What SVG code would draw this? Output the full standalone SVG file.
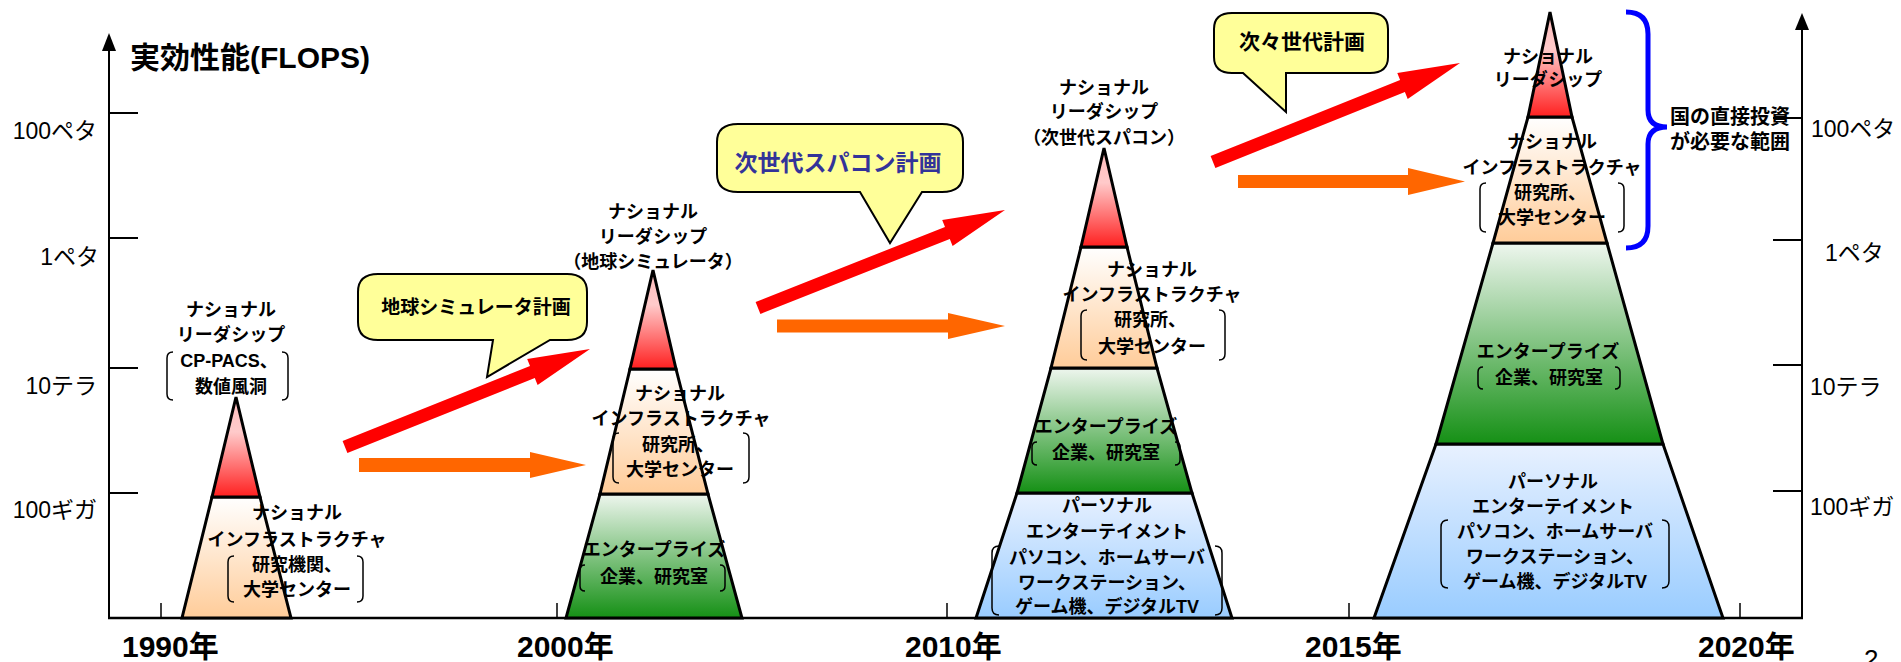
<svg xmlns="http://www.w3.org/2000/svg" width="1901" height="662" viewBox="0 0 1901 662">
<style>
text{font-family:"Liberation Sans","Noto Sans CJK JP",sans-serif;fill:#000}
.lbl{font-size:18px;font-weight:bold;text-anchor:middle}
.ax{font-size:23px}
.axe{text-anchor:end}
.yr{font-size:30px;font-weight:bold}
.ttl{font-size:30px;font-weight:bold}
.sec{stroke:#000;stroke-width:3;stroke-linejoin:miter}
.br{fill:none;stroke:#000;stroke-width:1.5}
.line{stroke:#000;stroke-width:2;fill:none}
.tick{stroke:#000;stroke-width:1.5}
.call{fill:#ffff99;stroke:#000;stroke-width:2}
.red{fill:#ff0000}
.org{fill:#ff6600}
</style>
<defs>
<linearGradient id="gRed" x1="0" y1="0" x2="0" y2="1"><stop offset="0" stop-color="#ffbcbc"/><stop offset="0.35" stop-color="#ffcaca"/><stop offset="1" stop-color="#ff1f1f"/></linearGradient>
<linearGradient id="gOrg" x1="0" y1="0" x2="0" y2="1"><stop offset="0" stop-color="#ffffff"/><stop offset="1" stop-color="#ffcc99"/></linearGradient>
<linearGradient id="gGrn" x1="0" y1="0" x2="0" y2="1"><stop offset="0" stop-color="#eef6ee"/><stop offset="1" stop-color="#159015"/></linearGradient>
<linearGradient id="gBlu" x1="0" y1="0" x2="0" y2="1"><stop offset="0" stop-color="#e8f1ff"/><stop offset="1" stop-color="#99ccff"/></linearGradient>
</defs>
<rect width="1901" height="662" fill="#fff"/>

<g id="axes">
<line class="line" x1="109" y1="618" x2="109" y2="48"/>
<polygon points="109,33 102,51 116,51"/>
<line class="line" x1="1802" y1="618" x2="1802" y2="26"/>
<polygon points="1802,13 1795,30 1809,30"/>
<line x1="108" y1="618" x2="1803" y2="618" stroke="#000" stroke-width="2.5"/>
<line class="line" x1="109" y1="113" x2="138" y2="113"/>
<line class="line" x1="109" y1="238" x2="138" y2="238"/>
<line class="line" x1="109" y1="368" x2="138" y2="368"/>
<line class="line" x1="109" y1="493" x2="138" y2="493"/>
<line class="line" x1="1773" y1="118" x2="1802" y2="118"/>
<line class="line" x1="1773" y1="240" x2="1802" y2="240"/>
<line class="line" x1="1773" y1="365" x2="1802" y2="365"/>
<line class="line" x1="1773" y1="491" x2="1802" y2="491"/>
<line class="tick" x1="161" y1="603" x2="161" y2="618"/>
<line class="tick" x1="557" y1="603" x2="557" y2="618"/>
<line class="tick" x1="947" y1="603" x2="947" y2="618"/>
<line class="tick" x1="1349" y1="603" x2="1349" y2="618"/>
<line class="tick" x1="1740" y1="603" x2="1740" y2="618"/>
<text class="ttl" x="130" y="68">実効性能(FLOPS)</text>
<text class="ax axe" x="97" y="139">100ペタ</text>
<text class="ax axe" x="99" y="265">1ペタ</text>
<text class="ax axe" x="97" y="394">10テラ</text>
<text class="ax axe" x="97" y="518">100ギガ</text>
<text class="ax" x="1811" y="137">100ペタ</text>
<text class="ax" x="1825" y="261">1ペタ</text>
<text class="ax" x="1810" y="395">10テラ</text>
<text class="ax" x="1810" y="515">100ギガ</text>
<text class="yr" x="122" y="657">1990年</text>
<text class="yr" x="517" y="657">2000年</text>
<text class="yr" x="905" y="657">2010年</text>
<text class="yr" x="1305" y="657">2015年</text>
<text class="yr" x="1698" y="657">2020年</text>
<text x="1864" y="668" style="font-size:26px">2</text>
</g>

<g id="connectors">
<polygon class="red" points="347.4,453 534.8,378 537.6,385 590,349 527.2,359 530,366 342.6,441"/>
<polygon class="red" points="760.4,314 949.8,238.9 952.6,245.9 1005,210 942.2,219.9 945,226.9 755.6,302"/>
<polygon class="red" points="1215.4,168 1404.9,92.1 1407.7,99.1 1460,63 1397.3,73.1 1400.1,80.1 1210.6,156"/>
<polygon class="org" points="359,458 530,458 530,452 586,465 530,478 530,472 359,472"/>
<polygon class="org" points="777,319.5 948,319.5 948,313 1005,326 948,339 948,332.5 777,332.5"/>
<polygon class="org" points="1238,175 1408,175 1408,168 1465,181.5 1408,195 1408,188 1238,188"/>
</g>

<g id="callout-earth-simulator">
<path class="call" d="M378,274 H567 Q587,274 587,292 V322 Q587,340 567,340 H550 L487,377 L493,340 H378 Q358,340 358,322 V292 Q358,274 378,274 Z"/>
<text class="lbl" x="476" y="314" style="font-size:19px">地球シミュレータ計画</text>
</g>
<g id="callout-next-gen">
<path class="call" d="M738,124 H942 Q963,124 963,142 V174 Q963,192 942,192 H922 L890,243 L860,192 H738 Q717,192 717,174 V142 Q717,124 738,124 Z"/>
<text class="lbl" x="838" y="171" style="font-size:23px;fill:#333399">次世代スパコン計画</text>
</g>
<g id="callout-next-next-gen">
<path class="call" d="M1232,13 H1370 Q1388,13 1388,29 V57 Q1388,73 1370,73 H1286 V112 L1243,73 H1232 Q1214,73 1214,57 V29 Q1214,13 1232,13 Z"/>
<text class="lbl" x="1302" y="49" style="font-size:21px">次々世代計画</text>
</g>

<g id="pyramid-1990">
<polygon class="sec" fill="url(#gOrg)" points="212,497 260,497 291,618 182,618"/>
<polygon class="sec" fill="url(#gRed)" points="236,397 260,497 212,497"/>
<text class="lbl" x="231" y="316">ナショナル</text>
<text class="lbl" x="231" y="341">リーダシップ</text>
<text class="lbl" x="229" y="367">CP-PACS、</text>
<text class="lbl" x="231" y="393">数値風洞</text>
<path class="br" d="M173,352 Q167,352 167,358 V394 Q167,400 173,400 M282,352 Q288,352 288,358 V394 Q288,400 282,400"/>
<text class="lbl" x="297" y="519">ナショナル</text>
<text class="lbl" x="297" y="546">インフラストラクチャ</text>
<text class="lbl" x="297" y="571">研究機関、</text>
<text class="lbl" x="297" y="596">大学センター</text>
<path class="br" d="M234,556 Q228,556 228,562 V596 Q228,602 234,602 M357,556 Q363,556 363,562 V596 Q363,602 357,602"/>
</g>

<g id="pyramid-2000">
<polygon class="sec" fill="url(#gGrn)" points="600,494 708,494 742,618 566,618"/>
<polygon class="sec" fill="url(#gOrg)" points="630,369 676,369 708,494 600,494"/>
<polygon class="sec" fill="url(#gRed)" points="653,270 676,369 630,369"/>
<text class="lbl" x="653" y="218">ナショナル</text>
<text class="lbl" x="653" y="243">リーダシップ</text>
<text class="lbl" x="653" y="268">（地球シミュレータ）</text>
<text class="lbl" x="680" y="400">ナショナル</text>
<text class="lbl" x="681" y="425">インフラストラクチャ</text>
<text class="lbl" x="678" y="451">研究所、</text>
<text class="lbl" x="680" y="476">大学センター</text>
<path class="br" d="M619,433 Q613,433 613,439 V477 Q613,483 619,483 M743,433 Q749,433 749,439 V477 Q749,483 743,483"/>
<text class="lbl" x="654" y="556">エンタープライズ</text>
<text class="lbl" x="654" y="583">企業、研究室</text>
<path class="br" d="M585,565 Q580,565 580,570 V586 Q580,591 585,591 M720,565 Q725,565 725,570 V586 Q725,591 720,591"/>
</g>

<g id="pyramid-2010">
<polygon class="sec" fill="url(#gBlu)" points="1017,493 1192,493 1232,618 976,618"/>
<polygon class="sec" fill="url(#gGrn)" points="1051,368 1157,368 1192,493 1017,493"/>
<polygon class="sec" fill="url(#gOrg)" points="1081,247 1127,247 1157,368 1051,368"/>
<polygon class="sec" fill="url(#gRed)" points="1104,148 1127,247 1081,247"/>
<text class="lbl" x="1104" y="94">ナショナル</text>
<text class="lbl" x="1104" y="118">リーダシップ</text>
<text class="lbl" x="1104" y="144">（次世代スパコン）</text>
<text class="lbl" x="1152" y="276">ナショナル</text>
<text class="lbl" x="1152" y="301">インフラストラクチャ</text>
<text class="lbl" x="1150" y="326">研究所、</text>
<text class="lbl" x="1152" y="353">大学センター</text>
<path class="br" d="M1087,310 Q1081,310 1081,316 V354 Q1081,360 1087,360 M1219,310 Q1225,310 1225,316 V354 Q1225,360 1219,360"/>
<text class="lbl" x="1106" y="433">エンタープライズ</text>
<text class="lbl" x="1106" y="459">企業、研究室</text>
<path class="br" d="M1037,442 Q1032,442 1032,447 V460 Q1032,465 1037,465 M1175,442 Q1180,442 1180,447 V460 Q1180,465 1175,465"/>
<text class="lbl" x="1107" y="512">パーソナル</text>
<text class="lbl" x="1107" y="538">エンターテイメント</text>
<text class="lbl" x="1107" y="564">パソコン、ホームサーバ</text>
<text class="lbl" x="1107" y="589">ワークステーション、</text>
<text class="lbl" x="1107" y="613">ゲーム機、デジタルTV</text>
<path class="br" d="M999,546 Q992,546 992,553 V608 Q992,615 999,615 M1215,546 Q1222,546 1222,553 V608 Q1222,615 1215,615"/>
</g>

<g id="pyramid-2020">
<polygon class="sec" fill="url(#gBlu)" points="1436,444 1663,444 1723,618 1374,618"/>
<polygon class="sec" fill="url(#gGrn)" points="1493,243 1607,243 1663,444 1436,444"/>
<polygon class="sec" fill="url(#gOrg)" points="1528,117 1572,117 1607,243 1493,243"/>
<polygon class="sec" fill="url(#gRed)" points="1550,12 1572,117 1528,117"/>
<text class="lbl" x="1548" y="63">ナショナル</text>
<text class="lbl" x="1548" y="86">リーダシップ</text>
<text class="lbl" x="1552" y="148">ナショナル</text>
<text class="lbl" x="1552" y="174">インフラストラクチャ</text>
<text class="lbl" x="1550" y="199">研究所、</text>
<text class="lbl" x="1552" y="224">大学センター</text>
<path class="br" d="M1486,183 Q1480,183 1480,189 V226 Q1480,232 1486,232 M1618,183 Q1624,183 1624,189 V226 Q1624,232 1618,232"/>
<text class="lbl" x="1548" y="358">エンタープライズ</text>
<text class="lbl" x="1549" y="384">企業、研究室</text>
<path class="br" d="M1483,367 Q1478,367 1478,372 V384 Q1478,389 1483,389 M1615,367 Q1620,367 1620,372 V384 Q1620,389 1615,389"/>
<text class="lbl" x="1553" y="488">パーソナル</text>
<text class="lbl" x="1553" y="513">エンターテイメント</text>
<text class="lbl" x="1555" y="538">パソコン、ホームサーバ</text>
<text class="lbl" x="1555" y="563">ワークステーション、</text>
<text class="lbl" x="1555" y="588">ゲーム機、デジタルTV</text>
<path class="br" d="M1448,520 Q1441,520 1441,527 V581 Q1441,588 1448,588 M1662,520 Q1669,520 1669,527 V581 Q1669,588 1662,588"/>
</g>

<g id="national-investment-brace">
<path d="M1626,12 Q1648,12 1648,34 V110 Q1648,127 1667,127 Q1648,127 1648,144 V226 Q1648,248 1626,248" fill="none" stroke="#0000ff" stroke-width="5"/>
<text class="lbl" x="1730" y="124" style="font-size:20px">国の直接投資</text>
<text class="lbl" x="1730" y="149" style="font-size:20px">が必要な範囲</text>
</g>
</svg>
